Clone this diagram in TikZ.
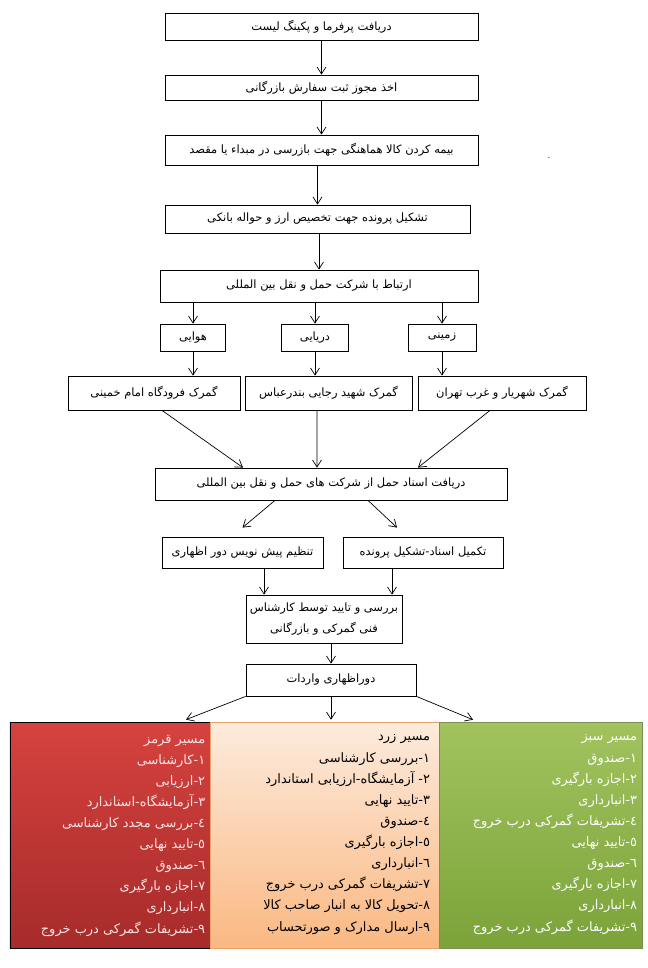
\documentclass[tikz,border=0pt]{standalone}
\usepackage{fontspec}
\newfontfamily\fa[Script=Arabic]{DejaVu Sans}
\TeXXeTstate=1
\usetikzlibrary{arrows.meta,calc}
\newcommand{\faR}[1]{\beginR #1\endR}
\definecolor{redtop}{HTML}{D6423F}
\definecolor{redbot}{HTML}{A62B2A}
\definecolor{orgtop}{HTML}{FDEBDD}
\definecolor{orgbot}{HTML}{FAB882}
\definecolor{orgline}{HTML}{E9A26A}
\definecolor{grntop}{HTML}{A2C35E}
\definecolor{grnbot}{HTML}{7BA33A}
\definecolor{grnline}{HTML}{7A8F5A}
\definecolor{redtxt}{HTML}{FCE4E4}
\tikzset{
  box/.style={draw, line width=0.8bp, inner sep=0pt, align=center,
    font=\fa\fontsize{11.5}{21}\selectfont},
  arr/.style={-{Straight Barb[length=7bp,width=9bp]}, line width=0.7bp},
  panel/.style={inner sep=0pt, minimum height=226bp},
  paneltext/.style={inner sep=0pt, align=right, anchor=north east,
    font=\fa\fontsize{13}{21.2}\selectfont}
}
\begin{document}
\begin{tikzpicture}[x=1bp,y=-1bp]
\fill[white] (0,0) rectangle (648,968);
\useasboundingbox (0,0) rectangle (648,968);

\node[box, minimum width=313bp, minimum height=27bp] (b1) at (321.5,26.5) {\faR{دریافت پرفرما و پکینگ لیست}};
\node[box, minimum width=313bp, minimum height=25bp] (b2) at (321.5,87.5) {\faR{اخذ مجوز ثبت سفارش بازرگانی}};
\node[box, minimum width=313bp, minimum height=30bp] (b3) at (321.5,150) {\faR{بیمه کردن کالا هماهنگی جهت بازرسی در مبداء یا مقصد}};
\node[box, minimum width=305bp, minimum height=28bp] (b4) at (317.5,219) {\faR{تشکیل پرونده جهت تخصیص ارز و حواله بانکی}};
\node[box, minimum width=318bp, minimum height=32bp] (b5) at (319,286) {\faR{ارتباط با شرکت حمل و نقل بین المللی}};
\node[inner sep=0pt] (dot) at (549,158) {.};

\node[box, minimum width=65bp, minimum height=27bp] (hava) at (193,337.5) {\faR{هوایی}};
\node[box, minimum width=67bp, minimum height=27bp] (darya) at (315,337.5) {\faR{دریایی}};
\node[box, minimum width=68bp, minimum height=27bp] (zamin) at (442,337.5) {\faR{زمینی}};

\node[box, minimum width=172bp, minimum height=34bp] (gl) at (154,393) {\faR{گمرک فرودگاه امام خمینی}};
\node[box, minimum width=167bp, minimum height=34bp] (gm) at (328.5,393) {\faR{گمرک شهید رجایی بندرعباس}};
\node[box, minimum width=168bp, minimum height=34bp] (gr) at (502,393) {\faR{گمرک شهریار و غرب تهران}};

\node[box, minimum width=352bp, minimum height=32bp] (doc) at (331,484) {\faR{دریافت اسناد حمل از شرکت های حمل و نقل بین المللی}};

\node[box, minimum width=161bp, minimum height=31bp] (tanzim) at (242.5,552.5) {\faR{تنظیم پیش نویس دور اظهاری}};
\node[box, minimum width=160bp, minimum height=31bp] (takmil) at (423,552.5) {\faR{تکمیل اسناد-تشکیل پرونده}};

\node[box, minimum width=156bp, minimum height=48bp] (review) at (324,619) {\faR{بررسی و تایید توسط کارشناس}\\\faR{فنی گمرکی و بازرگانی}};
\node[box, minimum width=170bp, minimum height=32bp] (dor) at (331,680) {\faR{دوراظهاری واردات}};

\node[panel, minimum width=200bp, draw=black, line width=0.8bp, top color=redtop, bottom color=redbot] (red) at (110,835) {};
\node[panel, minimum width=229bp, draw=orgline, line width=0.6bp, top color=orgtop, bottom color=orgbot] (org) at (324.5,835) {};
\node[panel, minimum width=203bp, draw=grnline, line width=0.6bp, top color=grntop, bottom color=grnbot] (grn) at (540.5,835) {};

\node[paneltext, text=redtxt] (redt) at ([xshift=-5bp,yshift=-13bp]red.north east) {%
\faR{مسیر قرمز}\\
\faR{١-کارشناسی}\\
\faR{٢-ارزیابی}\\
\faR{٣-آزمایشگاه-استاندارد}\\
\faR{٤-بررسی مجدد کارشناسی}\\
\faR{٥-تایید نهایی}\\
\faR{٦-صندوق}\\
\faR{٧-اجازه بارگیری}\\
\faR{٨-انبارداری}\\
\faR{٩-تشریفات گمرکی درب خروج}};

\node[paneltext, text=black] (orgt) at ([xshift=-9bp,yshift=-13bp]org.north east) {%
\faR{مسیر زرد}\\
\faR{١-بررسی کارشناسی}\\
\faR{٢- آزمایشگاه-ارزیابی استاندارد}\\
\faR{٣-تایید نهایی}\\
\faR{٤-صندوق}\\
\faR{٥-اجازه بارگیری}\\
\faR{٦-انبارداری}\\
\faR{٧-تشریفات گمرکی درب خروج}\\
\faR{٨-تحویل کالا به انبار صاحب کالا}\\
\faR{٩-ارسال مدارک و صورتحساب}};

\node[paneltext, text=white] (grnt) at ([xshift=-5bp,yshift=-13bp]grn.north east) {%
\faR{مسیر سبز}\\
\faR{١-صندوق}\\
\faR{٢-اجازه بارگیری}\\
\faR{٣-انبارداری}\\
\faR{٤-تشریفات گمرکی درب خروج}\\
\faR{٥-تایید نهایی}\\
\faR{٦-صندوق}\\
\faR{٧-اجازه بارگیری}\\
\faR{٨-انبارداری}\\
\faR{٩-تشریفات گمرکی درب خروج}};

% connectors
\draw[arr] (b1) -- (b2);
\draw[arr] (b2) -- (b3);
\draw[arr] (b3.south -| b4.north) -- (b4.north);
\draw[arr] (b4.south -| b5.north) -- (b5.north);
\draw[arr] (hava.north |- b5.south) -- (hava.north);
\draw[arr] (darya.north |- b5.south) -- (darya.north);
\draw[arr] (zamin.north |- b5.south) -- (zamin.north);
\draw[arr] (hava.south) -- (hava.south |- gl.north);
\draw[arr] (darya.south) -- (darya.south |- gm.north);
\draw[arr] (zamin.south) -- (zamin.south |- gr.north);
\draw[arr] ([xshift=8bp]gl.south) -- ([xshift=-88bp]doc.north);
\draw[arr] ([xshift=-11.5bp]gm.south) -- ([xshift=-14bp]doc.north);
\draw[arr] ([xshift=-12bp]gr.south) -- ([xshift=87bp]doc.north);
\draw[arr] ([xshift=-56bp]doc.south) -- ([yshift=9bp]tanzim.north);
\draw[arr] ([xshift=37bp]doc.south) -- ([xshift=-26bp,yshift=9bp]takmil.north);
\draw[arr] ([xshift=21.5bp]tanzim.south) -- ([xshift=21.5bp]tanzim.south |- review.north);
\draw[arr] ([xshift=-31bp]takmil.south) -- ([xshift=-31bp]takmil.south |- review.north);
\draw[arr] (review.south -| dor.north) -- (dor.north);
\draw[arr] (dor.south west) -- ([xshift=76bp,yshift=2bp]red.north);
\draw[arr] (dor.south) -- ([yshift=2bp]dor.south |- org.north);
\draw[arr] (dor.south east) -- ([xshift=-67.5bp,yshift=2bp]grn.north);
\end{tikzpicture}
\end{document}
